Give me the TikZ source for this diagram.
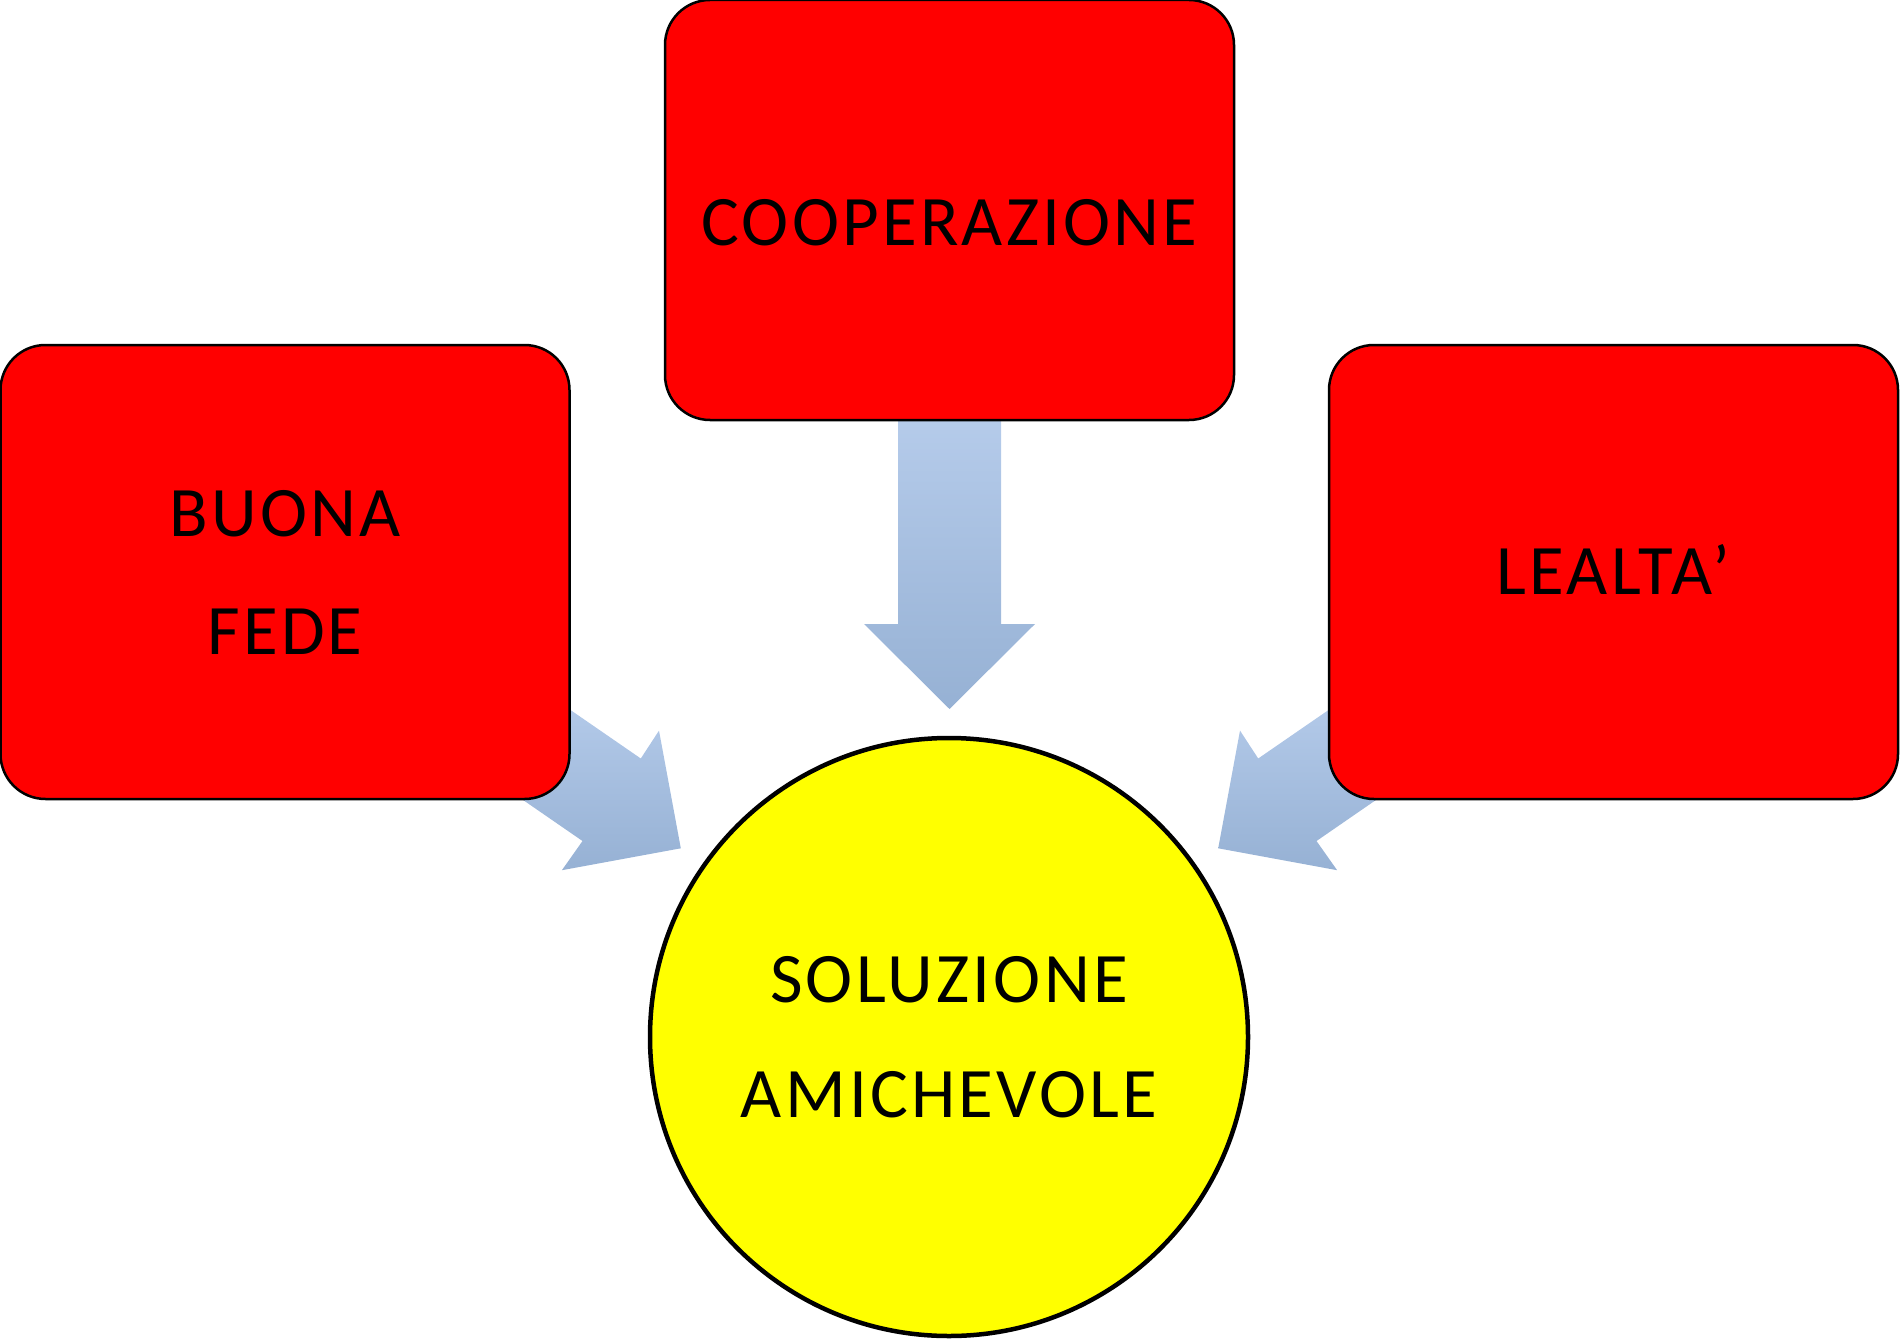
\documentclass[tikz,border=0pt]{standalone}
\usepackage{fontspec}
\setmainfont{Carlito}
\newfontfamily\labelfont[LetterSpace=4.5]{Carlito}
\definecolor{arrowtop}{RGB}{182,204,235}
\definecolor{arrowbot}{RGB}{150,177,212}
\definecolor{boxred}{RGB}{255,0,0}
\definecolor{goalyellow}{RGB}{255,255,0}
\begin{document}
\begin{tikzpicture}[x=1pt,y=-1pt,
  box/.style={draw=black, line width=2.5pt, fill=boxred, rounded corners=45pt,
    rectangle, minimum width=569pt, minimum height=454pt, inner sep=0pt,
    align=center, font=\labelfont\fontsize{71}{118}\selectfont},
  goal/.style={draw=black, line width=4.5pt, fill=goalyellow, circle,
    minimum size=598pt, inner sep=0pt, align=center,
    font=\labelfont\fontsize{71}{115}\selectfont},
  blockarrow/.style={top color=arrowtop, bottom color=arrowbot, draw=none}]
\useasboundingbox (0,0) rectangle (1903,1340);

% block arrows, drawn first so the boxes cover their tails
\shade[blockarrow] (898,410) -- (1001,410) -- (1001,624) -- (1035,624)
  -- (949.5,709) -- (864,624) -- (898,624) -- cycle;
\shade[blockarrow] (540,689) -- (640.8,758.5) -- (659.0,730.6) -- (680.8,848.3)
  -- (561.9,870.2) -- (582.5,841.0) -- (516.7,795.6) -- cycle;
\shade[blockarrow] (1359,689) -- (1258.2,758.5) -- (1240.0,730.6) -- (1218.2,848.3)
  -- (1337.1,870.2) -- (1316.5,841.0) -- (1382.3,795.6) -- cycle;

% boxes
\node[box, minimum height=420pt] (coop) at (949.5,210)
  {\raisebox{-36pt}[0pt][0pt]{COOPERAZIONE}};
\node[box] (fede) at (285,572) {BUONA\\FEDE};
\node[box] (lealta) at (1613.5,572) {\raisebox{5pt}{LEALTA’}};

% goal
\node[goal] (sol) at (949,1037) {SOLUZIONE\\AMICHEVOLE};
\end{tikzpicture}
\end{document}
